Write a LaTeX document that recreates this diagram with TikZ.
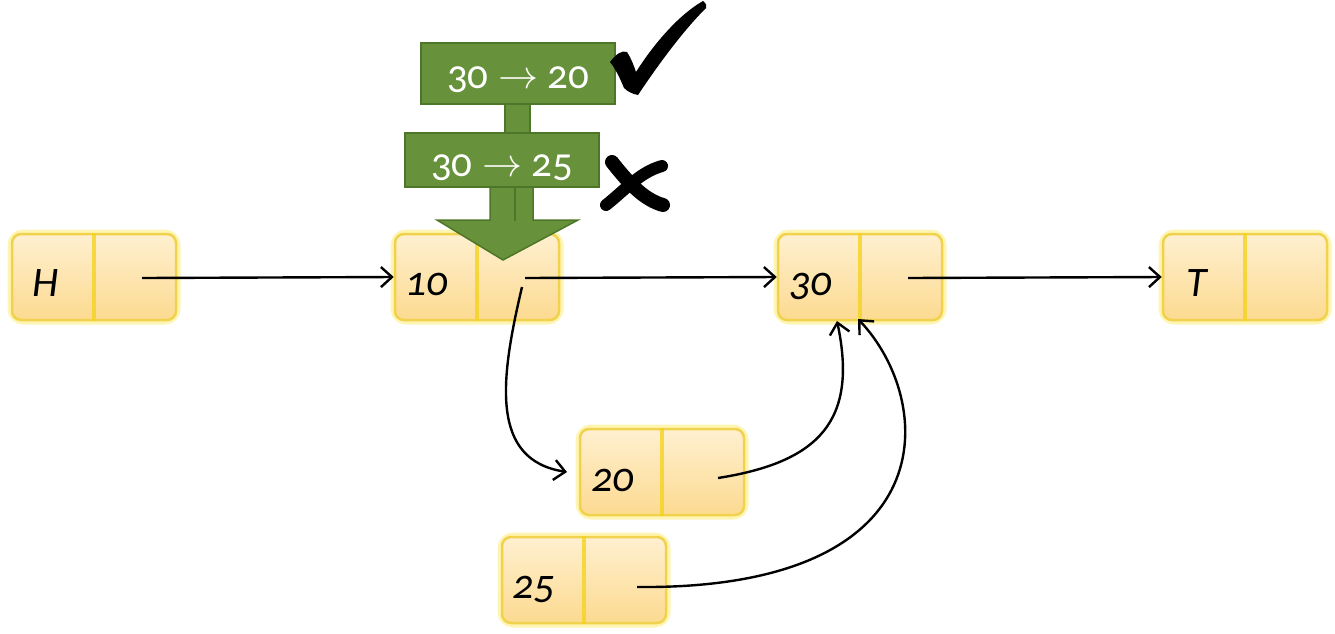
\documentclass[tikz,border=0pt]{standalone}
\usepackage{fontspec}
\setmainfont{Carlito}[Numbers=OldStyle]
\usetikzlibrary{arrows.meta,calc}
\definecolor{gfill}{HTML}{67913A}
\definecolor{gdraw}{HTML}{4E7628}
\definecolor{ytop}{HTML}{FFF0D0}
\definecolor{ybot}{HTML}{FCDA90}
\definecolor{yedge}{HTML}{F0D24C}
\definecolor{ydiv}{HTML}{F4D320}
\newcommand{\rarr}{\resizebox{40pt}{!}{$\rightarrow$}}
\tikzset{
  cell/.style={rectangle, rounded corners=9pt, minimum width=164pt, minimum height=86pt,
    top color=ytop, bottom color=ybot, draw=yedge, line width=2.5pt, inner sep=0pt},
  glow/.style={draw=yellow!80!orange, line width=9pt, opacity=0.3, rounded corners=11pt},
  lbl/.style={anchor=base west, font=\fontsize{42}{42}\selectfont\itshape, inner sep=0pt},
  link/.style={line width=2.4pt, -{Straight Barb[length=11pt,width=20pt,line width=2.4pt]}},
  gbox/.style={fill=gfill, draw=gdraw, line width=1.5pt},
  gtxt/.style={text=white, font=\fontsize{41}{41}\selectfont, inner sep=0pt}
}
\begin{document}
\begin{tikzpicture}[x=1pt,y=-1pt]
\useasboundingbox (0,0) rectangle (1335,633);
% cells
\foreach \nm/\cx/\cy in {h/94/277, n10/477/277, n30/860/277, t/1245/277, n20/662/472, n25/584/580}{
  \draw[glow] (\cx-82,\cy-43) rectangle (\cx+82,\cy+43);
  \node[cell] (\nm) at (\cx,\cy) {};
  \draw[ydiv, line width=4pt, opacity=0.8] (\nm.north) -- (\nm.south);
}
% labels
\node[lbl] (lh) at (32,296) {H};
\node[lbl] (l10) at (405,295) {10};
\node[lbl] (l30) at (789,295) {30};
\node[lbl] (lt) at (1186,296) {T};
\node[lbl] (l20) at (591,491) {20};
\node[lbl] (l25) at (512,598) {25};
% pointer start coordinates
\coordinate (ph) at (142,278);
\coordinate (p10) at (525,278);
\coordinate (p10b) at (522,287);
\coordinate (p30) at (908,278);
\coordinate (p20) at (718,478);
\coordinate (p25) at (637,587);
\coordinate (e20) at (567,472);
\coordinate (e30a) at (837,321);
\coordinate (e30b) at (858,319);
% connectors
\draw[link] (ph) -- (n10.west);
\draw[link] (p10) -- (n30.west);
\draw[link] (p30) -- (t.west);
\draw[link] (p10b) .. controls (500,380) and (490,460) .. (e20);
\draw[link] (p20) .. controls (820,462) and (858,420) .. (e30a);
\draw[link] (p25) .. controls (950,590) and (935,400) .. (e30b);
% green arrow
\fill[gbox] (490,186) -- (533,186) -- (533,220) -- (578,220) -- (503,260) -- (437,220) -- (490,220) -- cycle;
\draw[gdraw, line width=1.5pt] (515,186) -- (515,221);
\fill[gbox] (505,100) rectangle (530,136);
\node[gbox, minimum width=194pt, minimum height=61pt, inner sep=0pt] (b1) at (518,73.5) {};
\node[gbox, minimum width=194pt, minimum height=54pt, inner sep=0pt] (b2) at (502,160) {};
\node[gtxt] (t1) at (518,80) {30 \rarr{} 20};
\node[gtxt] (t2) at (502,168) {30 \rarr{} 25};
% check mark
\fill[black] (610,62) .. controls (616,54) and (622,50) .. (627,52)
  .. controls (631,58) and (634,66) .. (636,72)
  .. controls (655,42) and (680,14) .. (703,1)
  .. controls (706,3) and (707,6) .. (706,8)
  .. controls (684,30) and (660,62) .. (638,95)
  .. controls (633,94) and (628,92) .. (624,88)
  .. controls (620,78) and (615,68) .. (610,62) -- cycle;
% cross mark
\draw[black, line width=14pt, line cap=round] (612,162) .. controls (630,185) and (645,200) .. (663,205);
\draw[black, line width=12pt, line cap=round] (606,205) .. controls (625,190) and (640,172) .. (662,166);
\end{tikzpicture}
\end{document}
